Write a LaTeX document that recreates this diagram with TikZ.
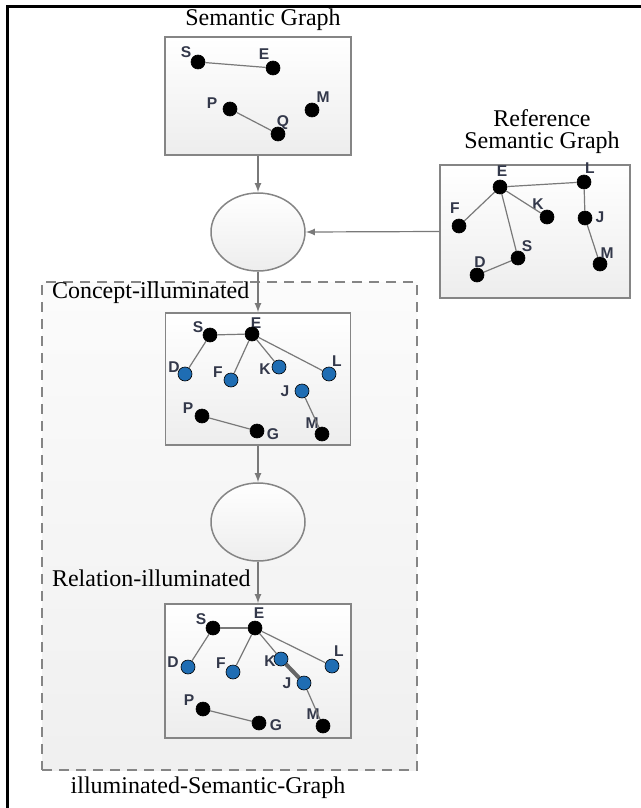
\documentclass[tikz,border=0pt]{standalone}
\usepackage{fontspec}
\setmainfont{Liberation Serif}
\newfontfamily\lblfont{Liberation Sans}
\usetikzlibrary{arrows}
\usetikzlibrary{shapes.geometric}
\tikzset{>=latex}
\definecolor{boxgray}{HTML}{858585}
\definecolor{dotblue}{HTML}{1F6DB3}
\definecolor{lblcol}{HTML}{33384A}

\begin{document}
\begin{tikzpicture}[x = 0.5pt, y = -0.5pt, font = {\fontsize{12pt}{11pt}\selectfont},
	box/.style = {draw = boxgray, line width = 0.75pt, top color = white, bottom color = gray!14, inner sep = 0pt},
	oval/.style = {ellipse, draw = boxgray, line width = 0.75pt, top color = white, bottom color = gray!14, minimum width = 47pt, minimum height = 39pt, inner sep = 0pt},
	dot/.style = {circle, draw = black, line width = 0.3pt, inner sep = 0pt, minimum size = 7pt},
	lbl/.style = {font = {\lblfont\bfseries\fontsize{7.8pt}{8pt}\selectfont}, text = lblcol, inner sep = 0pt},
	link/.style = {draw = gray!95!black, line width = 0.6pt},
	flow/.style = {->, draw = gray!95!black, line width = 0.6pt}]

\useasboundingbox (0,0) rectangle (641,808);
\draw[line width = 1.5pt] (7,808) -- (7,7) -- (641,7);

% dashed group
\node[draw = boxgray, line width = 0.75pt, dash pattern = on 5pt off 3.5pt, top color = gray!3, bottom color = gray!12, minimum width = 187.5pt, minimum height = 244pt] (GRP) at (229.5,526) {};
\node[anchor = west] (CON) at (45,293) {Concept-illuminated};
\node[anchor = west] (REL) at (45,578) {Relation-illuminated};
\node (ISG) at (208,788) {illuminated-Semantic-Graph};

% boxes and ovals
\node (SGT) at (263,20) {Semantic Graph};
\node[box, minimum width = 93pt, minimum height = 59pt] (SG) at (258,96) {};
\node[align = center] (RGT) at (542,132) {Reference \\ Semantic Graph};
\node[box, minimum width = 95pt, minimum height = 66.5pt] (RG) at (535,231.5) {};
\node[oval] (OV1) at (258,232) {};
\node[box, minimum width = 92.5pt, minimum height = 66pt] (CG) at (258,379) {};
\node[oval] (OV2) at (258,522) {};
\node[box, minimum width = 93pt, minimum height = 67pt] (RIG) at (258,671) {};

\draw[flow] (SG) -- (OV1);
\draw[flow] (RG.west) -- (OV1.east);
\draw[flow] (OV1) -- (CG);
\draw[flow] (CG) -- (OV2);
\draw[flow] (OV2) -- (RIG);

% semantic graph
\foreach \n/\x/\y/\lx/\ly in {S/198/62/186/52, E/273/68/264/54, P/230/109/212/103, Q/278/134/283/123, M/312/110/323/97}
{
	\node[dot, fill = black] (a\n) at (\x,\y) {};
	\node[lbl] (a\n-l) at (\lx,\ly) {\n};
}
\foreach \u/\v in {S/E, P/Q}
	\draw[link] (a\u) -- (a\v);

% reference graph
\foreach \n/\x/\y/\lx/\ly in {E/500/187/502/171, L/584/182/590/168, F/459/226/455/208, K/547/217/538/204, J/585/218/600/217, S/518/258/527/246, D/477/275/480/262, M/600/264/607/253}
{
	\node[dot, fill = black] (r\n) at (\x,\y) {};
	\node[lbl] (r\n-l) at (\lx,\ly) {\n};
}
\foreach \u/\v in {E/L, E/F, E/K, E/S, S/D, L/J, J/M}
	\draw[link] (r\u) -- (r\v);

% concept-illuminated graph
\foreach \n/\x/\y/\lx/\ly/\c in {S/210/335/198/327/black, E/252/334/256/323/black, D/185/374/174/367/dotblue, F/231/380/218/372/dotblue, K/279/367/265/369/dotblue, L/329/374/337/361/dotblue, J/302/391/285/391/dotblue, P/202/416/188/408/black, G/257/431/273/434/black, M/322/434/312/423/black}
{
	\node[lbl] (c\n-l) at (\lx,\ly) {\n};
	\node[dot, fill = \c] (c\n) at (\x,\y) {};
}
\foreach \u/\v in {S/E, S/D, E/F, E/K, E/L, P/G, J/M}
	\draw[link] (c\u) -- (c\v);

% relation-illuminated graph
\foreach \n/\x/\y/\lx/\ly/\c in {S/213/628/201/619/black, E/255/628/259/613/black, D/188/667/173/662/dotblue, F/233/672/221/663/dotblue, K/281/659/270/661/dotblue, L/332/666/339/651/dotblue, J/304/683/287/683/dotblue, P/203/709/189/700/black, G/259/723/276/725/black, M/323/726/313/714/black}
{
	\node[lbl] (x\n-l) at (\lx,\ly) {\n};
	\node[dot, fill = \c] (x\n) at (\x,\y) {};
}
\foreach \u/\v in {S/E, S/D, E/F, E/K, E/L, P/G, J/M}
	\draw[link] (x\u) -- (x\v);
\draw[link, line width = 2pt, draw = gray!80!black] (xK) -- (xJ);
\end{tikzpicture}
\end{document}
